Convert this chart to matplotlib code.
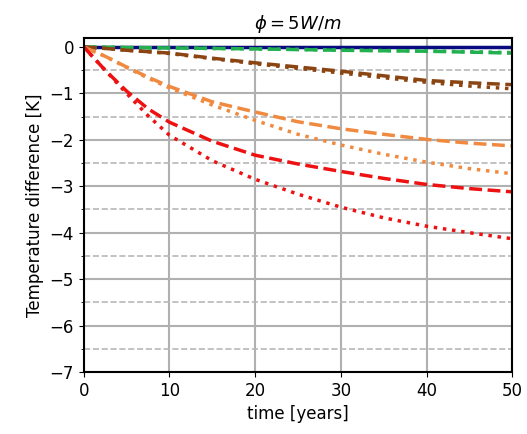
import matplotlib
matplotlib.use("Agg")
import matplotlib.pyplot as plt
from matplotlib.ticker import MultipleLocator

t = [0, 1, 2.5, 5, 7.5, 10, 15, 20, 25, 30, 35, 40, 45, 50]
baseline = [0]*len(t)
green_dashed = [0, -0.002, -0.005, -0.01, -0.015, -0.02, -0.03, -0.04, -0.055, -0.07, -0.08, -0.09, -0.11, -0.13]
green_dotted = [0, -0.002, -0.005, -0.01, -0.015, -0.02, -0.03, -0.04, -0.05, -0.065, -0.075, -0.085, -0.1, -0.12]
brown_dashed = [0, -0.01, -0.03, -0.07, -0.1, -0.13, -0.24, -0.34, -0.43, -0.52, -0.62, -0.72, -0.77, -0.81]
brown_dotted = [0, -0.01, -0.03, -0.07, -0.1, -0.14, -0.25, -0.36, -0.46, -0.56, -0.66, -0.76, -0.84, -0.90]
orange_dashed = [0, -0.08, -0.2, -0.43, -0.65, -0.85, -1.18, -1.40, -1.61, -1.76, -1.88, -1.99, -2.07, -2.13]
orange_dotted = [0, -0.08, -0.2, -0.44, -0.67, -0.88, -1.25, -1.58, -1.88, -2.11, -2.31, -2.48, -2.62, -2.73]
red_dashed = [0, -0.2, -0.5, -0.95, -1.33, -1.62, -2.03, -2.33, -2.52, -2.68, -2.83, -2.96, -3.05, -3.12]
red_dotted = [0, -0.2, -0.5, -1.0, -1.48, -1.9, -2.45, -2.85, -3.17, -3.45, -3.68, -3.86, -4.0, -4.13]

fig = plt.figure(figsize=(5.27, 4.34), dpi=100)
ax = fig.add_axes([0.159, 0.143, 0.813, 0.770])

ax.plot(t, baseline, color='#0a0a80', lw=2.5, ls='-')
ax.plot(t, green_dashed, color='#22b050', lw=2.5, ls='--')
ax.plot(t, green_dotted, color='#22b050', lw=2.5, ls=':')
ax.plot(t, brown_dashed, color='#8b4513', lw=2.5, ls='--')
ax.plot(t, brown_dotted, color='#8b4513', lw=2.5, ls=':')
ax.plot(t, orange_dashed, color='#f08a40', lw=2.5, ls='--')
ax.plot(t, orange_dotted, color='#f08a40', lw=2.5, ls=':')
ax.plot(t, red_dashed, color='#ee1111', lw=2.5, ls='--')
ax.plot(t, red_dotted, color='#ee1111', lw=2.5, ls=':')

ax.set_xlim(0, 50)
ax.set_ylim(-7, 0.2)
ax.xaxis.set_major_locator(MultipleLocator(10))
ax.yaxis.set_major_locator(MultipleLocator(1))
ax.yaxis.set_minor_locator(MultipleLocator(0.5))
ax.grid(True, which='major', color='#b0b0b0', lw=1.5, ls='-')
ax.grid(True, which='minor', axis='y', color='#b8b8b8', lw=1.2, ls='--')
ax.set_axisbelow(True)
for s in ax.spines.values():
    s.set_linewidth(1.5)
ax.tick_params(labelsize=12)
ax.set_xlabel('time [years]', fontsize=12)
ax.set_ylabel('Temperature difference [K]', fontsize=12)
ax.set_title(r'$\phi = 5W/m$', fontsize=13)

fig.savefig('out.png', dpi=100)
